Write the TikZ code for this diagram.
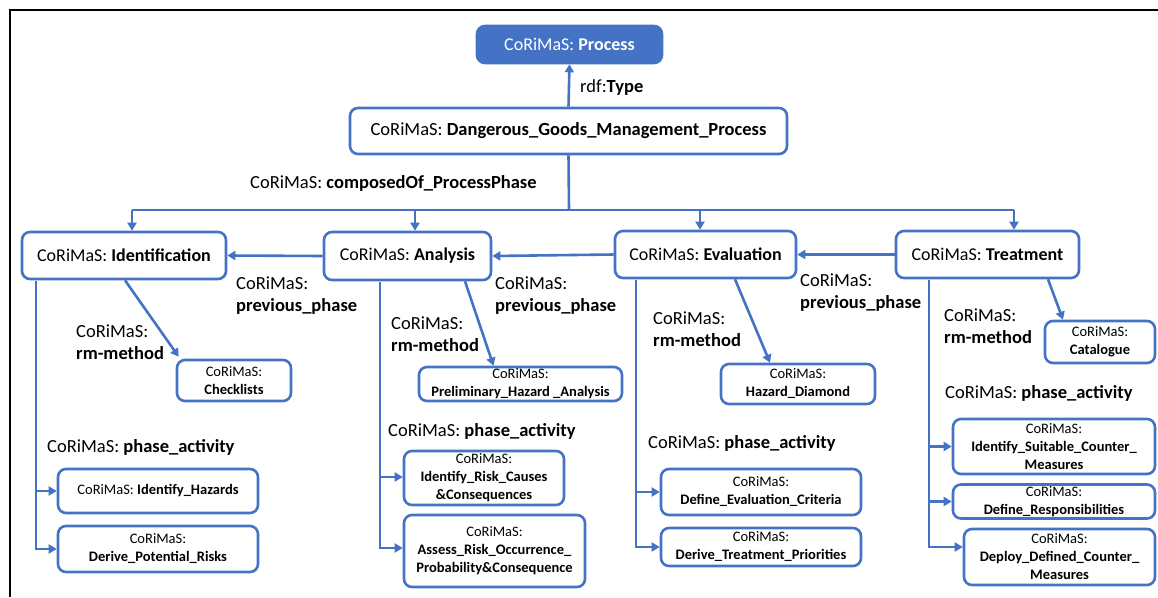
\documentclass[tikz,border=0pt]{standalone}
\usepackage{fontspec}
\setmainfont{Carlito}
\usetikzlibrary{arrows.meta}
\definecolor{obblue}{RGB}{68,114,196}
\tikzset{
  x=1pt, y=-1pt,
  box/.style={draw=obblue, line width=2.6pt, rounded corners=8pt, fill=white,
    inner sep=0pt, align=center},
  phasebox/.style={box, font=\fontsize{18}{22}\selectfont},
  smallbox/.style={box, font=\fontsize{14.5}{18}\selectfont},
  conn/.style={draw=obblue, line width=2.6pt},
  arrow/.style={conn, -{Triangle[length=8pt,width=9pt]}},
  lbl/.style={inner sep=0pt, anchor=west, align=left, font=\fontsize{18.5}{22}\selectfont},
}
\begin{document}
\begin{tikzpicture}
\useasboundingbox (0,0) rectangle (1158,597);
% outer frame
\draw[black, line width=1.5pt] (10,597) -- (10,10) -- (1158,10);

% class and process
\node[box, fill=obblue, text=white, minimum width=185pt, minimum height=37pt,
  font=\fontsize{18}{22}\selectfont] (proc) at (569.5,44.5) {CoRiMaS: \textbf{Process}};
\node[box, minimum width=437pt, minimum height=46pt, font=\fontsize{18.5}{22}\selectfont]
  (dgmp) at (568.5,131) {CoRiMaS: \textbf{Dangerous\_Goods\_Management\_Process}};
\draw[arrow] (dgmp.north) -- (proc.south);
\node[lbl] (typelbl) at (580,88) {rdf:\textbf{Type}};

% phases
\node[phasebox, minimum width=204pt, minimum height=47pt] (ident) at (124,255.5) {CoRiMaS: \textbf{Identification}};
\node[phasebox, minimum width=167pt, minimum height=48pt] (anal) at (407.5,256) {CoRiMaS: \textbf{Analysis}};
\node[phasebox, minimum width=181pt, minimum height=47pt] (eval) at (705.5,254.5) {CoRiMaS: \textbf{Evaluation}};
\node[phasebox, minimum width=183pt, minimum height=47pt] (treat) at (987.5,254.5) {CoRiMaS: \textbf{Treatment}};

% composedOf bus
\coordinate (bus) at (569,210);
\coordinate (b1) at (132,210);
\coordinate (b2) at (415,210);
\coordinate (b3) at (700,210);
\coordinate (b4) at (1014,210);
\draw[conn] (dgmp.south) -- (bus);
\draw[conn] (b1) -- (b4);
\draw[arrow] (b1) -- (b1 |- ident.north);
\draw[arrow] (b2) -- (b2 |- anal.north);
\draw[arrow] (b3) -- (b3 |- eval.north);
\draw[arrow] (b4) -- (b4 |- treat.north);
\node[lbl] (complbl) at (250,183) {CoRiMaS: \textbf{composedOf\_ProcessPhase}};

% previous_phase links
\draw[arrow] (anal.west) -- (ident.east);
\draw[arrow] (eval.west) -- (anal.east);
\draw[arrow] (treat.west) -- (eval.east);
\node[lbl] (pp1) at (236,296) {CoRiMaS:\\\textbf{previous\_phase}};
\node[lbl] (pp2) at (495,296) {CoRiMaS:\\\textbf{previous\_phase}};
\node[lbl] (pp3) at (800,293) {CoRiMaS:\\\textbf{previous\_phase}};

% risk management methods
\node[smallbox, minimum width=114pt, minimum height=41pt] (check) at (234,380.5) {CoRiMaS:\\\textbf{Checklists}};
\node[smallbox, minimum width=203pt, minimum height=34pt] (pha) at (520.5,384) {CoRiMaS:\\\textbf{Preliminary\_Hazard \_Analysis}};
\node[smallbox, minimum width=154pt, minimum height=40pt] (hd) at (798,384) {CoRiMaS:\\\textbf{Hazard\_Diamond}};
\node[smallbox, minimum width=110pt, minimum height=42pt] (cat) at (1100,342) {CoRiMaS:\\\textbf{Catalogue}};
\draw[arrow] ([xshift=1pt]ident.south) -- ([xshift=3pt,yshift=2pt]check.north west);
\draw[arrow] ([xshift=57.5pt]anal.south) -- ([xshift=-27pt]pha.north);
\draw[arrow] ([xshift=29.5pt]eval.south) -- ([xshift=-28pt]hd.north);
\draw[arrow] ([xshift=60.5pt]treat.south) -- ([xshift=-37pt]cat.north);
\node[lbl] (rm1) at (76,342.5) {CoRiMaS:\\\textbf{rm-method}};
\node[lbl] (rm2) at (391,334) {CoRiMaS:\\\textbf{rm-method}};
\node[lbl] (rm3) at (653,329) {CoRiMaS:\\\textbf{rm-method}};
\node[lbl] (rm4) at (944,326) {CoRiMaS:\\\textbf{rm-method}};

% phase activities
\node[smallbox, minimum width=200pt, minimum height=44pt] (ih) at (158,491) {CoRiMaS: \textbf{Identify\_Hazards}};
\node[smallbox, minimum width=200pt, minimum height=46pt] (dpr) at (158,549) {CoRiMaS:\\\textbf{Derive\_Potential\_Risks}};
\node[smallbox, minimum width=160pt, minimum height=54pt] (irc) at (484,478) {CoRiMaS:\\\textbf{Identify\_Risk\_Causes}\\\textbf{\&Consequences}};
\node[smallbox, minimum width=181pt, minimum height=72pt] (arop) at (494.5,551) {CoRiMaS:\\\textbf{Assess\_Risk\_Occurrence\_}\\\textbf{Probability\&Consequence}};
\node[smallbox, minimum width=200pt, minimum height=46pt] (dec) at (761,492) {CoRiMaS:\\\textbf{Define\_Evaluation\_Criteria}};
\node[smallbox, minimum width=200pt, minimum height=38pt] (dtp) at (761,547) {CoRiMaS:\\\textbf{Derive\_Treatment\_Priorities}};
\node[smallbox, minimum width=202pt, minimum height=55pt] (isc) at (1054,446.5) {CoRiMaS:\\\textbf{Identify\_Suitable\_Counter\_}\\\textbf{Measures}};
\node[smallbox, minimum width=202pt, minimum height=34pt] (dr) at (1054,501.5) {CoRiMaS:\\\textbf{Define\_Responsibilities}};
\node[smallbox, minimum width=191pt, minimum height=56pt] (ddc) at (1059.5,557) {CoRiMaS:\\\textbf{Deploy\_Defined\_Counter\_}\\\textbf{Measures}};

\coordinate (t1) at (36,281);
\coordinate (t2) at (380,282);
\coordinate (t3) at (636,280);
\coordinate (t4) at (929,280);
\draw[arrow] (t1) |- (ih);
\draw[arrow] (t1) |- (dpr);
\draw[arrow] (t2) |- ([yshift=1pt]irc.west);
\draw[arrow] (t2) |- ([yshift=3pt]arop.west);
\draw[arrow] (t3) |- (dec);
\draw[arrow] (t3) |- (dtp);
\draw[arrow] (t4) |- (isc);
\draw[arrow] (t4) |- (dr);
\draw[arrow] (t4) |- ([yshift=10pt]ddc.west);
\node[lbl] (pa1) at (47,447) {CoRiMaS: \textbf{phase\_activity}};
\node[lbl] (pa2) at (388,431) {CoRiMaS: \textbf{phase\_activity}};
\node[lbl] (pa3) at (648,443) {CoRiMaS: \textbf{phase\_activity}};
\node[lbl] (pa4) at (945,393) {CoRiMaS: \textbf{phase\_activity}};
\end{tikzpicture}
\end{document}
